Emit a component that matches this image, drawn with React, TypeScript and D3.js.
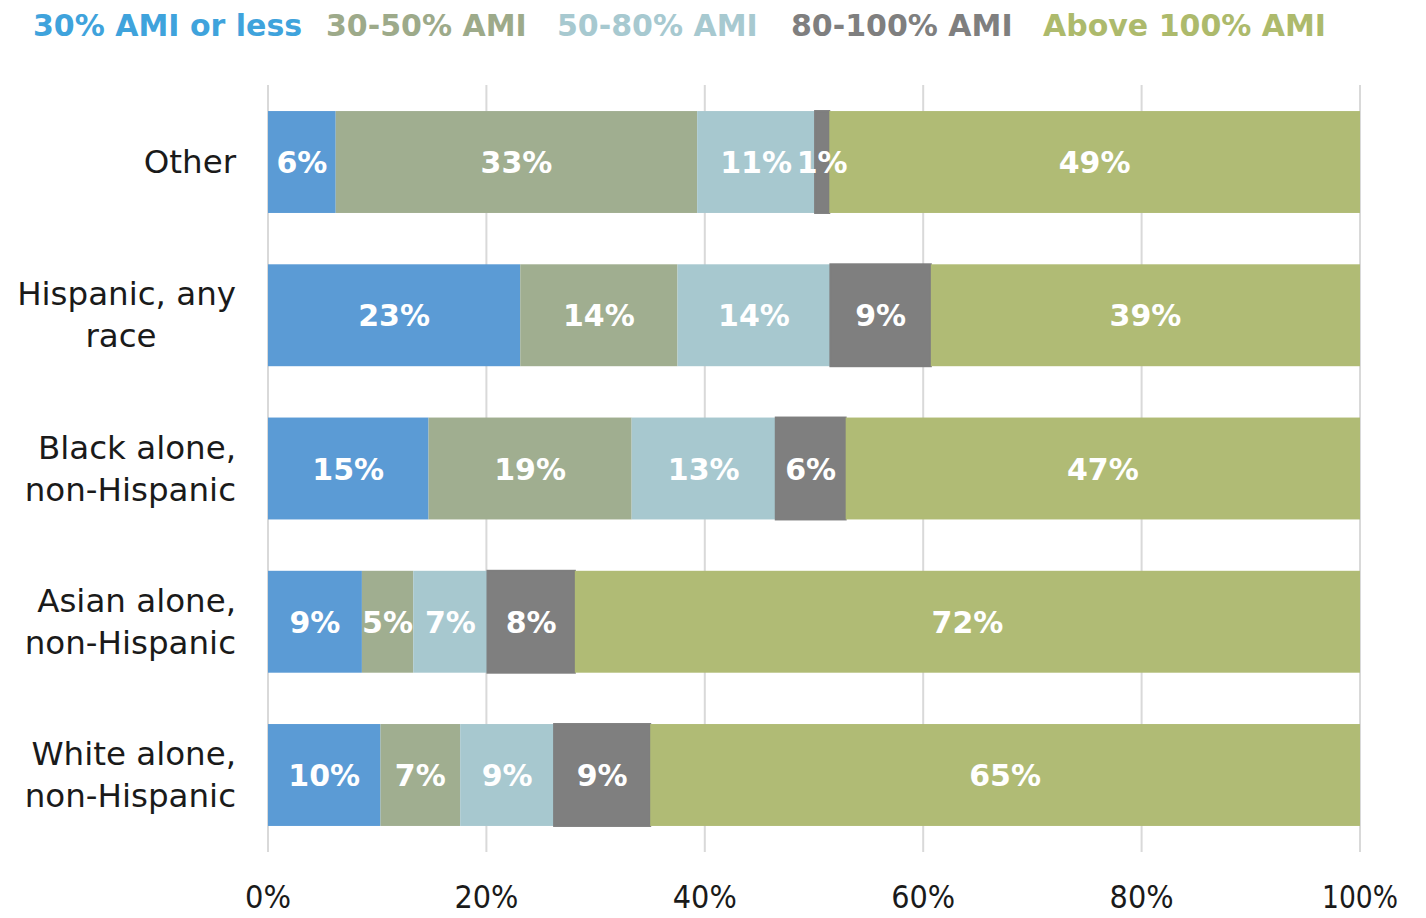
import React from "react";
import * as d3 from "d3";

const categories = [
  "Other",
  "Hispanic, any race",
  "Black alone, non-Hispanic",
  "Asian alone, non-Hispanic",
  "White alone, non-Hispanic",
];
const categoryLines = [
  ["Other"],
  ["Hispanic, any", "race"],
  ["Black alone,", "non-Hispanic"],
  ["Asian alone,", "non-Hispanic"],
  ["White alone,", "non-Hispanic"],
];
const seriesNames = ["30% AMI or less", "30-50% AMI", "50-80% AMI", "80-100% AMI", "Above 100% AMI"];
const ami30 = [6.2, 23.1, 14.7, 8.6, 10.3];
const ami30to50 = [33.1, 14.4, 18.6, 4.7, 7.3];
const ami50to80 = [10.8, 14.0, 13.2, 6.8, 8.6];
const ami80to100 = [1.3, 9.2, 6.4, 8.0, 8.8];
const above100 = [48.6, 39.3, 47.1, 71.9, 65.0];
const tickValues = [0, 20, 40, 60, 80, 100];

const barColors = ["#5B9BD5", "#A0AE90", "#A7C8CF", "#7F7F7F", "#B0BB75"];
const legendColors = ["#3FA3DC", "#9DAA8A", "#A7C9D0", "#7F7F7F", "#ADBA6C"];
const legendX = [33, 326, 557, 791, 1043];

const FONT = "'DejaVu Sans', 'Open Sans', sans-serif";

export default function App() {
  const W = 1426;
  const H = 918;
  const x = d3.scaleLinear().domain([0, 100]).range([268, 1360]);
  const y = d3.scaleBand<number>().domain(d3.range(categories.length)).range([85, 852]).paddingInner(0.335).paddingOuter(0.17);
  const series = [ami30, ami30to50, ami50to80, ami80to100, above100];
  const rows = categories.map((c, i) => {
    const obj: any = { cat: c };
    series.forEach((s, k) => (obj["s" + k] = s[i]));
    return obj;
  });
  const stack = d3.stack<any>().keys(series.map((_, k) => "s" + k));
  const stacked = stack(rows);

  return (
    <svg width={W} height={H} style={{ position: "absolute", left: 0, top: 0, background: "#fff" }} fontFamily={FONT}>
      {seriesNames.map((n, k) => (
        <text key={n} x={legendX[k]} y={36} fontSize={30} fontWeight="bold" fill={legendColors[k]}>
          {n}
        </text>
      ))}
      {tickValues.map((t) => (
        <line key={t} x1={x(t)} x2={x(t)} y1={85} y2={852} stroke="#D9D9D9" strokeWidth={2} />
      ))}
      {stacked.map((layer, k) =>
        layer.map((d, i) => (
          <rect
            key={k + "-" + i}
            x={x(d[0])}
            y={y(i)!}
            width={x(d[1]) - x(d[0])}
            height={y.bandwidth()}
            fill={barColors[k]}
            stroke={k === 3 ? "#7F7F7F" : "none"}
            strokeWidth={k === 3 ? 2 : 0}
          />
        ))
      )}
      {stacked.map((layer, k) =>
        layer.map((d, i) => {
          const cx = (x(d[0]) + x(d[1])) / 2;
          const cy = y(i)! + y.bandwidth() / 2;
          return (
            <text key={"l" + k + "-" + i} x={cx} y={cy + 11} textAnchor="middle" fontSize={30} fontWeight="bold" fill="#fff">
              {Math.round(d[1] - d[0]) + "%"}
            </text>
          );
        })
      )}
      {categoryLines.map((lines, i) => {
        const cy = y(i)! + y.bandwidth() / 2;
        const lh = 42;
        const start = cy - ((lines.length - 1) * lh) / 2;
        return lines.map((ln, j) => {
          const isRace = ln === "race";
          return (
            <text
              key={"c" + i + j}
              x={isRace ? 121 : 236}
              y={start + j * lh + 11}
              textAnchor={isRace ? "middle" : "end"}
              fontSize={32.5}
              fill="#1a1a1a"
            >
              {ln}
            </text>
          );
        });
      })}
      {tickValues.map((t) => {
        const s = t + "%";
        return (
          <text
            key={"t" + t}
            x={x(t)}
            y={908}
            textAnchor="middle"
            fontSize={32}
            fill="#1a1a1a"
            textLength={s.length === 2 ? 46 : s.length === 3 ? 64 : 76}
            lengthAdjust="spacingAndGlyphs"
          >
            {s}
          </text>
        );
      })}
    </svg>
  );
}
